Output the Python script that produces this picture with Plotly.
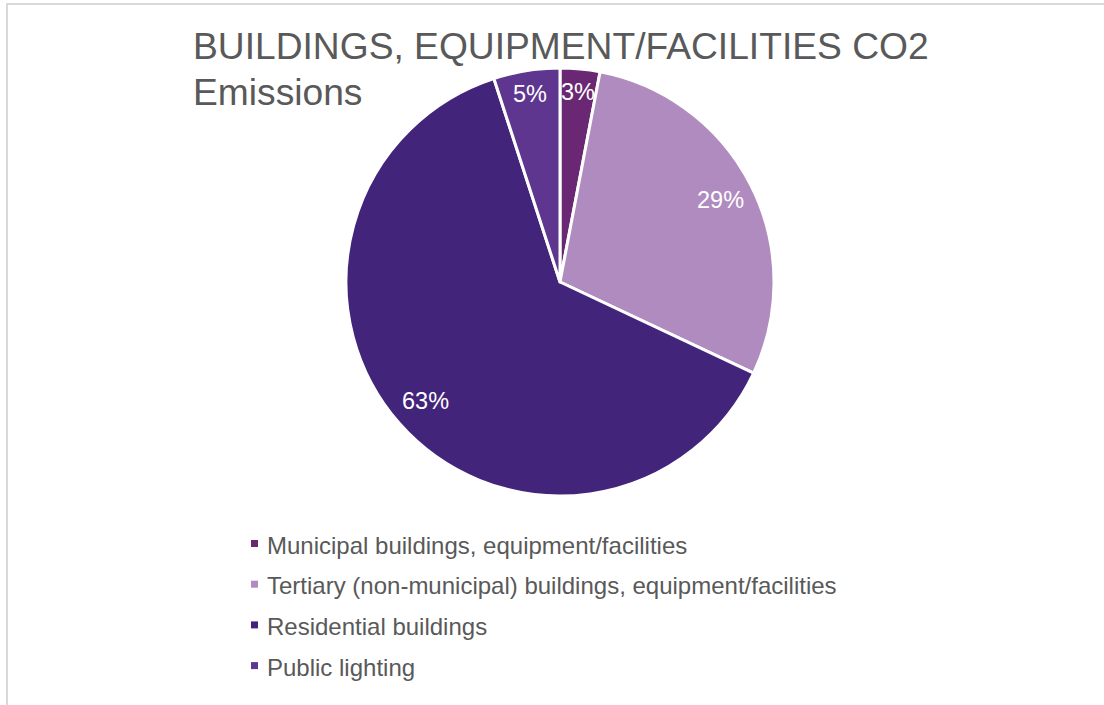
import math
import plotly.graph_objects as go

# Share of CO2 emissions by sector (percent)
categories = [
    "Municipal buildings, equipment/facilities",
    "Tertiary (non-municipal) buildings, equipment/facilities",
    "Residential buildings",
    "Public lighting",
]
shares = [3, 29, 63, 5]
colors = ["#6A2874", "#B08BC0", "#42247A", "#5E3690"]

title_lines = ["BUILDINGS, EQUIPMENT/FACILITIES CO2", "Emissions"]

W, H = 1104, 705
FONT = "Liberation Sans"
TEXT_GREY = "#595959"

# pie geometry in pixels
cx, cy, R = 560, 282, 214

fig = go.Figure()

fig.add_trace(go.Pie(
    labels=categories,
    values=shares,
    sort=False,
    direction="clockwise",
    rotation=0,
    marker=dict(colors=colors, line=dict(color="white", width=3)),
    textinfo="none",
    hoverinfo="label+percent",
    showlegend=False,
    domain=dict(
        x=[(cx - R) / W, (cx + R) / W],
        y=[1 - (cy + R) / H, 1 - (cy - R) / H],
    ),
))

annotations = []

# percentage labels placed inside each slice along its mid angle
total = sum(shares)
start = 0.0
for v in shares:
    frac = v / total
    mid = (start + frac / 2) * 2 * math.pi
    start += frac
    rf = 0.89 if frac < 0.1 else 0.84
    px = cx + rf * R * math.sin(mid)
    py = cy - rf * R * math.cos(mid)
    annotations.append(dict(
        x=px / W, y=1 - py / H, xref="paper", yref="paper",
        text=f"{round(frac * 100)}%", showarrow=False,
        xanchor="center", yanchor="middle",
        font=dict(family=FONT, size=23.5, color="white"),
    ))

# title, two left-aligned lines
for i, line in enumerate(title_lines):
    annotations.append(dict(
        x=191 / W, y=1 - (46 + i * 46) / H, xref="paper", yref="paper",
        text=line, showarrow=False, xanchor="left", yanchor="middle",
        font=dict(family=FONT, size=37.2, color=TEXT_GREY),
    ))

# legend: small squares with labels underneath the pie
shapes = []
for i, (name, col) in enumerate(zip(categories, colors)):
    yc = 543.5 + i * 40.7
    shapes.append(dict(
        type="rect", xref="paper", yref="paper",
        x0=251 / W, x1=258 / W, y0=1 - (yc + 3.5) / H, y1=1 - (yc - 3.5) / H,
        fillcolor=col, line=dict(width=0),
    ))
    annotations.append(dict(
        x=265 / W, y=1 - (yc + 1.5) / H, xref="paper", yref="paper",
        text=name, showarrow=False, xanchor="left", yanchor="middle",
        font=dict(family=FONT, size=24, color=TEXT_GREY),
    ))

# chart-area frame (top and left edges visible)
shapes.append(dict(
    type="rect", xref="paper", yref="paper",
    x0=7 / W, x1=1.02, y0=-0.02, y1=1 - 4 / H,
    line=dict(color="#D9D9D9", width=2), fillcolor="rgba(0,0,0,0)",
))

fig.update_layout(
    width=W, height=H,
    margin=dict(l=0, r=0, t=0, b=0),
    paper_bgcolor="white",
    plot_bgcolor="white",
    annotations=annotations,
    shapes=shapes,
    showlegend=False,
)

fig.write_html("out.html")
